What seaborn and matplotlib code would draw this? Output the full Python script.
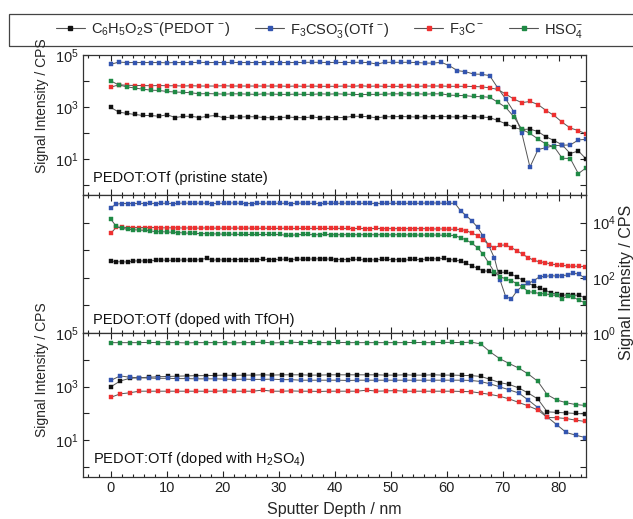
import numpy as np
import pandas as pd
import matplotlib
matplotlib.use("Agg")
import matplotlib.pyplot as plt
import seaborn as sns
from matplotlib.lines import Line2D
from matplotlib.patches import Rectangle
from matplotlib.ticker import FixedLocator, FuncFormatter, MultipleLocator, NullLocator

# ---------------- data (log10 of signal intensity, CPS) ----------------
depth_step_top = 1.44
depth_step_mid = 1.008
depth_step_bot = 1.695

# Panel 1: PEDOT:OTf (pristine state)
pedot_top = [2.99, 2.81, 2.76, 2.72, 2.68, 2.68, 2.65, 2.71, 2.60, 2.65,
             2.65, 2.60, 2.65, 2.68, 2.59, 2.62, 2.62, 2.63, 2.63, 2.60,
             2.59, 2.60, 2.62, 2.60, 2.59, 2.63, 2.58, 2.60, 2.60, 2.60,
             2.65, 2.65, 2.63, 2.59, 2.63, 2.63, 2.64, 2.63, 2.62, 2.63,
             2.63, 2.64, 2.63, 2.62, 2.64, 2.63, 2.62, 2.60, 2.49, 2.36,
             2.22, 2.14, 2.16, 2.06, 1.86, 1.72, 1.55, 1.22, 1.32, 1.00]
otf_top = [4.64, 4.73, 4.71, 4.71, 4.71, 4.71, 4.71, 4.70, 4.71, 4.71,
           4.71, 4.72, 4.71, 4.71, 4.71, 4.72, 4.71, 4.71, 4.71, 4.71,
           4.71, 4.71, 4.71, 4.71, 4.72, 4.72, 4.72, 4.71, 4.72, 4.71,
           4.72, 4.72, 4.71, 4.65, 4.72, 4.72, 4.72, 4.72, 4.71, 4.69,
           4.69, 4.72, 4.59, 4.40, 4.36, 4.27, 4.26, 4.21, 3.74, 3.31,
           2.82, 1.99, 0.70, 1.37, 1.45, 1.52, 1.54, 1.55, 1.74, 1.77]
f3c_top = [3.76, 3.86, 3.84, 3.83, 3.83, 3.82, 3.83, 3.82, 3.82, 3.81,
           3.82, 3.81, 3.81, 3.81, 3.82, 3.81, 3.81, 3.81, 3.81, 3.81,
           3.81, 3.81, 3.80, 3.81, 3.80, 3.81, 3.80, 3.80, 3.80, 3.81,
           3.80, 3.82, 3.80, 3.81, 3.80, 3.80, 3.80, 3.81, 3.80, 3.81,
           3.81, 3.81, 3.80, 3.80, 3.80, 3.79, 3.78, 3.74, 3.68, 3.50,
           3.31, 3.17, 3.22, 3.10, 2.87, 2.68, 2.42, 2.20, 2.10, 1.97]
hso4_top = [4.01, 3.85, 3.78, 3.73, 3.69, 3.65, 3.64, 3.60, 3.58, 3.57,
            3.55, 3.51, 3.52, 3.51, 3.50, 3.51, 3.51, 3.50, 3.49, 3.51,
            3.50, 3.49, 3.49, 3.50, 3.49, 3.49, 3.51, 3.50, 3.51, 3.50,
            3.49, 3.48, 3.49, 3.49, 3.50, 3.51, 3.51, 3.50, 3.51, 3.50,
            3.51, 3.51, 3.46, 3.45, 3.44, 3.41, 3.40, 3.38, 3.19, 2.99,
            2.63, 2.15, 1.99, 1.78, 1.58, 1.48, 1.04, 1.03, 0.45, 0.68]

# Panel 2: PEDOT:OTf (doped with TfOH)
pedot_mid = [2.61, 2.58, 2.58, 2.57, 2.61, 2.61, 2.61, 2.61, 2.64, 2.65,
             2.63, 2.64, 2.64, 2.65, 2.64, 2.64, 2.66, 2.71, 2.63, 2.66,
             2.64, 2.65, 2.66, 2.66, 2.66, 2.66, 2.66, 2.67, 2.66, 2.66,
             2.67, 2.68, 2.66, 2.68, 2.67, 2.68, 2.68, 2.69, 2.68, 2.68,
             2.66, 2.66, 2.66, 2.67, 2.67, 2.64, 2.65, 2.65, 2.67, 2.67,
             2.65, 2.66, 2.63, 2.67, 2.67, 2.65, 2.69, 2.69, 2.68, 2.71,
             2.66, 2.64, 2.61, 2.52, 2.44, 2.34, 2.25, 2.24, 2.15, 2.20,
             2.20, 2.13, 2.03, 1.91, 1.80, 1.71, 1.62, 1.55, 1.46, 1.40,
             1.36, 1.39, 1.37, 1.37, 1.27]
otf_mid = [4.54, 4.67, 4.69, 4.69, 4.69, 4.70, 4.69, 4.70, 4.69, 4.70,
           4.70, 4.69, 4.70, 4.71, 4.70, 4.70, 4.71, 4.70, 4.69, 4.70,
           4.70, 4.71, 4.71, 4.70, 4.69, 4.69, 4.70, 4.70, 4.71, 4.70,
           4.70, 4.70, 4.69, 4.70, 4.71, 4.70, 4.70, 4.69, 4.70, 4.70,
           4.70, 4.70, 4.71, 4.70, 4.70, 4.70, 4.70, 4.69, 4.70, 4.70,
           4.70, 4.70, 4.70, 4.70, 4.70, 4.70, 4.71, 4.71, 4.71, 4.70,
           4.70, 4.70, 4.43, 4.25, 4.06, 3.83, 3.51, 3.16, 2.71, 1.91,
           1.31, 1.24, 1.53, 1.71, 1.80, 1.90, 2.04, 2.05, 2.08, 2.06,
           2.08, 2.10, 2.18, 2.12, 2.00]
f3c_mid = [3.61, 3.83, 3.83, 3.82, 3.82, 3.82, 3.82, 3.82, 3.82, 3.81,
           3.81, 3.81, 3.81, 3.80, 3.81, 3.80, 3.80, 3.81, 3.80, 3.80,
           3.80, 3.80, 3.80, 3.80, 3.80, 3.80, 3.79, 3.80, 3.79, 3.79,
           3.79, 3.80, 3.79, 3.79, 3.79, 3.79, 3.79, 3.79, 3.79, 3.79,
           3.79, 3.79, 3.79, 3.78, 3.79, 3.78, 3.78, 3.79, 3.78, 3.78,
           3.78, 3.78, 3.78, 3.78, 3.78, 3.78, 3.78, 3.77, 3.77, 3.77,
           3.76, 3.76, 3.75, 3.71, 3.62, 3.53, 3.38, 3.19, 3.09, 3.18,
           3.19, 3.09, 2.98, 2.85, 2.73, 2.63, 2.58, 2.55, 2.50, 2.47,
           2.45, 2.43, 2.42, 2.42, 2.40]
hso4_mid = [4.13, 3.86, 3.79, 3.76, 3.74, 3.73, 3.72, 3.70, 3.67, 3.67,
            3.66, 3.65, 3.64, 3.62, 3.62, 3.61, 3.60, 3.60, 3.59, 3.59,
            3.58, 3.58, 3.58, 3.57, 3.57, 3.57, 3.57, 3.57, 3.57, 3.57,
            3.57, 3.54, 3.54, 3.56, 3.57, 3.57, 3.56, 3.56, 3.57, 3.56,
            3.56, 3.56, 3.56, 3.56, 3.56, 3.56, 3.56, 3.56, 3.56, 3.55,
            3.56, 3.56, 3.55, 3.56, 3.55, 3.55, 3.55, 3.55, 3.55, 3.54,
            3.54, 3.53, 3.45, 3.37, 3.25, 3.09, 2.85, 2.53, 2.20, 2.04,
            1.96, 1.89, 1.79, 1.66, 1.50, 1.47, 1.43, 1.42, 1.38, 1.36,
            1.25, 1.33, 1.30, 1.18, 1.10]

# Panel 3: PEDOT:OTf (doped with H2SO4)
pedot_bot = [2.99, 3.21, 3.31, 3.33, 3.35, 3.37, 3.38, 3.39, 3.40, 3.41,
             3.41, 3.42, 3.43, 3.42, 3.43, 3.43, 3.44, 3.43, 3.44, 3.44,
             3.44, 3.43, 3.43, 3.44, 3.44, 3.44, 3.44, 3.44, 3.44, 3.43,
             3.43, 3.44, 3.43, 3.43, 3.44, 3.43, 3.43, 3.42, 3.41, 3.38,
             3.27, 3.15, 3.08, 2.95, 2.76, 2.54, 2.06, 2.04, 2.02, 2.00,
             1.98]
otf_bot = [3.23, 3.40, 3.35, 3.33, 3.32, 3.31, 3.31, 3.30, 3.30, 3.29,
           3.29, 3.29, 3.28, 3.27, 3.28, 3.27, 3.27, 3.28, 3.26, 3.26,
           3.24, 3.24, 3.24, 3.24, 3.24, 3.23, 3.24, 3.24, 3.24, 3.24,
           3.24, 3.24, 3.24, 3.24, 3.24, 3.24, 3.24, 3.24, 3.23, 3.19,
           3.10, 2.99, 2.88, 2.76, 2.50, 2.22, 1.87, 1.58, 1.29, 1.19,
           1.10]
f3c_bot = [2.60, 2.73, 2.77, 2.83, 2.83, 2.83, 2.83, 2.83, 2.83, 2.83,
           2.83, 2.83, 2.84, 2.83, 2.83, 2.83, 2.87, 2.83, 2.83, 2.84,
           2.83, 2.83, 2.82, 2.83, 2.83, 2.83, 2.83, 2.87, 2.83, 2.84,
           2.85, 2.83, 2.83, 2.83, 2.83, 2.83, 2.83, 2.82, 2.81, 2.76,
           2.71, 2.64, 2.54, 2.41, 2.28, 2.13, 1.85, 1.84, 1.81, 1.75,
           1.70]
hso4_bot = [4.64, 4.64, 4.64, 4.64, 4.65, 4.64, 4.64, 4.64, 4.63, 4.64,
            4.64, 4.64, 4.64, 4.63, 4.64, 4.64, 4.66, 4.63, 4.64, 4.66,
            4.64, 4.65, 4.64, 4.64, 4.65, 4.64, 4.64, 4.64, 4.64, 4.64,
            4.64, 4.64, 4.65, 4.64, 4.64, 4.65, 4.65, 4.64, 4.66, 4.59,
            4.29, 4.04, 3.86, 3.69, 3.47, 3.20, 2.70, 2.50, 2.40, 2.33,
            2.30]

series_names = [r'C$_6$H$_5$O$_2$S$^{-}$(PEDOT $^{-}$)',
                r'F$_3$CSO$_3^{-}$(OTf $^{-}$)',
                r'F$_3$C$\,^{-}$',
                r'HSO$_4^{-}$']
series_colors = ['#111111', '#3355b0', '#ee3030', '#1f8a45']
panel_titles = ['PEDOT:OTf (pristine state)',
                'PEDOT:OTf (doped with TfOH)',
                r'PEDOT:OTf (doped with H$_2$SO$_4$)']
x_ticks = [0, 10, 20, 30, 40, 50, 60, 70, 80]

panels = [
    (depth_step_top, [pedot_top, otf_top, f3c_top, hso4_top]),
    (depth_step_mid, [pedot_mid, otf_mid, f3c_mid, hso4_mid]),
    (depth_step_bot, [pedot_bot, otf_bot, f3c_bot, hso4_bot]),
]

# ---------------- style ----------------
sns.set_style("ticks")
plt.rcParams['font.family'] = ['Liberation Sans', 'DejaVu Sans']
plt.rcParams['mathtext.fontset'] = 'custom'
plt.rcParams['mathtext.rm'] = 'Liberation Sans'
plt.rcParams['mathtext.it'] = 'Liberation Sans:italic'
plt.rcParams['mathtext.bf'] = 'Liberation Sans:bold'
plt.rcParams['mathtext.default'] = 'regular'

W, H = 633, 519
fig = plt.figure(figsize=(W / 100, H / 100), dpi=100)

left_px, right_px = 82.7, 585.5
panel_px = [(55, 195), (195, 333), (333, 477)]

def log_fmt(labels):
    def f(v, pos):
        e = int(round(np.log10(v)))
        return r'$10^{%d}$' % e if e in labels else ''
    return f

axes = []
for k, ((y0, y1), (step, vals)) in enumerate(zip(panel_px, panels)):
    ax = fig.add_axes([left_px / W, 1 - y1 / H, (right_px - left_px) / W, (y1 - y0) / H])
    axes.append(ax)
    n = len(vals[0])
    depth = np.arange(n) * step
    for name, v, c in zip(series_names, vals, series_colors):
        df = pd.DataFrame({'depth': depth, 'cps': 10 ** np.array(v)})
        sns.lineplot(data=df, x='depth', y='cps', ax=ax, color='#555555', lw=0.7,
                     marker='s', markersize=2.7, markerfacecolor=c, markeredgecolor=c,
                     markeredgewidth=0.3, legend=False, estimator=None, sort=False)
    ax.set_yscale('log')
    ax.set_xlim(-5, 84.8)
    if k == 1:
        ax.set_ylim(1, 1e5)
    else:
        ax.set_ylim(10 ** -0.37, 1e5)
    ax.yaxis.set_major_locator(FixedLocator([1, 10, 100, 1e3, 1e4, 1e5]))
    ax.yaxis.set_minor_locator(NullLocator())
    ax.xaxis.set_major_locator(FixedLocator(x_ticks))
    ax.xaxis.set_minor_locator(MultipleLocator(2))
    if k == 1:
        ax.yaxis.set_major_formatter(FuncFormatter(log_fmt({0, 2, 4})))
    else:
        ax.yaxis.set_major_formatter(FuncFormatter(log_fmt({1, 3, 5})))
    ax.tick_params(which='both', direction='in', top=True, right=True,
                   labelsize=10.5, colors='#222222', pad=3)
    ax.tick_params(which='major', length=4.5, width=0.8)
    ax.tick_params(which='minor', length=2.5, width=0.8)
    ax.tick_params(axis='x', labelbottom=(k == 2))
    if k == 1:
        ax.tick_params(axis='y', labelleft=False, labelright=True, pad=5)
    ax.set_xlabel('')
    ax.set_ylabel('')
    for s in ax.spines.values():
        s.set_linewidth(0.9)
        s.set_color('#333333')
    ax.text(0.02, [0.12, 0.095, 0.125][k], panel_titles[k], transform=ax.transAxes,
            ha='left', va='center', fontsize=10.5, color='#111111')

axes[2].set_xlabel('Sputter Depth / nm', fontsize=11.5, labelpad=5)

fig.text(42 / W, 1 - 106 / H, 'Signal Intensity / CPS', rotation=90,
         ha='center', va='center', fontsize=10)
fig.text(42 / W, 1 - 370 / H, 'Signal Intensity / CPS', rotation=90,
         ha='center', va='center', fontsize=10)
fig.text(627 / W, 1 - 282 / H, 'Signal Intensity / CPS', rotation=90,
         ha='center', va='center', fontsize=11.5)

# legend
fig.patches.append(Rectangle((9 / W, 1 - 46 / H), (640 - 9) / W, 32 / H,
                             transform=fig.transFigure, fill=False,
                             edgecolor='#444444', linewidth=0.9))
handles = [Line2D([], [], color='#555555', lw=0.8, marker='s', markersize=3.2,
                  markerfacecolor=c, markeredgecolor=c) for c in series_colors]
fig.legend(handles, series_names, loc='center', bbox_to_anchor=(0.505, 1 - 30 / H),
           ncol=4, frameon=False, fontsize=10.5, handlelength=2.0,
           handletextpad=0.4, columnspacing=1.7)

fig.savefig('out.png', dpi=100)
